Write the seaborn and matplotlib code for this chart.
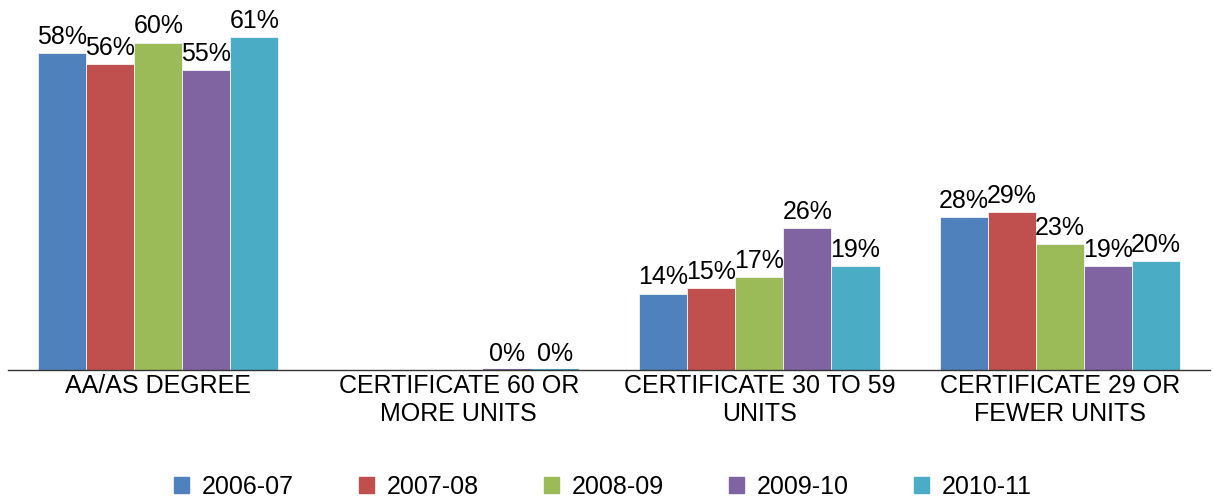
import numpy as np
import pandas as pd
import seaborn as sns
import matplotlib.pyplot as plt

# Chart data
categories = ["AA/AS DEGREE", "CERTIFICATE 60 OR\nMORE UNITS",
              "CERTIFICATE 30 TO 59\nUNITS", "CERTIFICATE 29 OR\nFEWER UNITS"]
years = ["2006-07", "2007-08", "2008-09", "2009-10", "2010-11"]
pct_2006_07 = [58, np.nan, 14, 28]
pct_2007_08 = [56, np.nan, 15, 29]
pct_2008_09 = [60, np.nan, 17, 23]
pct_2009_10 = [55, 0, 26, 19]
pct_2010_11 = [61, 0, 19, 20]
colors = ["#4F81BD", "#C0504D", "#9BBB59", "#8064A2", "#4BACC6"]

series = [pct_2006_07, pct_2007_08, pct_2008_09, pct_2009_10, pct_2010_11]
rows = []
for year, vals in zip(years, series):
    for cat, v in zip(categories, vals):
        rows.append({"category": cat, "year": year, "pct": v})
df = pd.DataFrame(rows)

sns.set_style("white")
plt.rcParams["font.family"] = ["Liberation Sans", "DejaVu Sans"]

fig = plt.figure(figsize=(12.13, 5.0), dpi=100)
ax = fig.add_axes([0.0066, 0.26, 0.991, 0.74])

sns.barplot(data=df, x="category", y="pct", hue="year", order=categories,
            hue_order=years, palette=colors, saturation=1, width=0.8,
            errorbar=None, edgecolor="#f4f4f4", linewidth=0.6, ax=ax)

# zero-height bars show as a thin coloured line
for p in ax.patches:
    if p.get_height() == 0:
        p.set_edgecolor(p.get_facecolor())
        p.set_linewidth(1.5)

for cont in ax.containers:
    labels = []
    for bar in cont:
        h = bar.get_height()
        labels.append("" if np.isnan(h) else f"{h:.0f}%")
    ax.bar_label(cont, labels=labels, padding=3, fontsize=18, color="black")

ax.set_ylim(0, 67.8)
ax.set_xlim(-0.5, 3.5)
ax.set_xlabel("")
ax.set_ylabel("")
ax.set_yticks([])
ax.tick_params(axis="x", which="major", length=0, labelsize=18, pad=3,
               labelcolor="black")
ax.set_xticks([-0.5, 0.5, 1.5, 2.5, 3.5], minor=True)
ax.tick_params(axis="x", which="minor", length=5, width=1, color="#444444", direction="out")
for lbl in ax.get_xticklabels():
    lbl.set_linespacing(1.2)

for s in ["top", "right", "left"]:
    ax.spines[s].set_visible(False)
ax.spines["bottom"].set_color("#333333")
ax.spines["bottom"].set_linewidth(1)

ax.legend_.remove()
handles = [plt.Rectangle((0, 0), 1, 1, color=c) for c in colors]
leg = fig.legend(handles, years, loc="center", bbox_to_anchor=(0.497, 0.026), ncol=5,
                 frameon=False, fontsize=18, handlelength=0.6, handleheight=0.6,
                 handletextpad=0.52, columnspacing=2.6)
for t in leg.get_texts():
    t.set_color("black")

fig.savefig("out.png", dpi=100)
